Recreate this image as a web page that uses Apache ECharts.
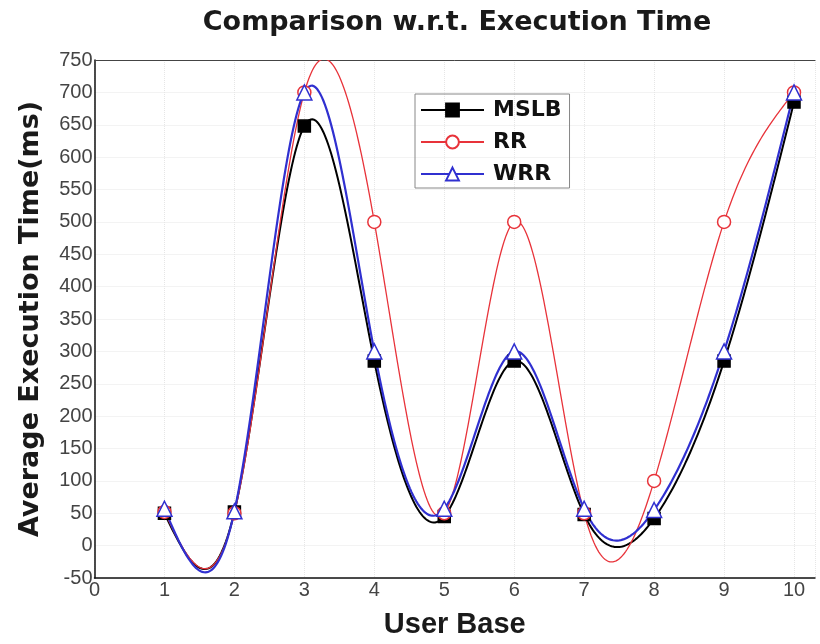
<!DOCTYPE html>
<html><head><meta charset="utf-8">
<script src="https://cdn.jsdelivr.net/npm/echarts@6/dist/echarts.min.js"></script>
<style>html,body{margin:0;padding:0;background:#fff}#c{width:820px;height:644px}</style>
</head><body><div id="c"></div>
<script>
var userBase = [1, 2, 3, 4, 5, 6, 7, 8, 9, 10];
var mslb = [50, 52, 648, 285, 45, 285, 48, 42, 285, 685];
var rr   = [52, 50, 700, 500, 50, 500, 50, 100, 500, 700];
var wrr  = [57, 53, 700, 300, 57, 300, 57, 55, 300, 700];
var seriesNames = ['MSLB', 'RR', 'WRR'];
var yTicks = [-50, 0, 50, 100, 150, 200, 250, 300, 350, 400, 450, 500, 550, 600, 650, 700, 750];

function naturalSpline(xs, ys) {
  var n = xs.length, h = [], M = new Array(n).fill(0);
  for (var i = 0; i < n - 1; i++) h.push(xs[i + 1] - xs[i]);
  var a = [], b = [], c = [], d = [];
  for (var i = 1; i < n - 1; i++) {
    a.push(h[i - 1]); b.push(2 * (h[i - 1] + h[i])); c.push(h[i]);
    d.push(6 * ((ys[i + 1] - ys[i]) / h[i] - (ys[i] - ys[i - 1]) / h[i - 1]));
  }
  var m = d.length;
  for (var i = 1; i < m; i++) {
    var w = a[i] / b[i - 1];
    b[i] -= w * c[i - 1]; d[i] -= w * d[i - 1];
  }
  var sol = new Array(m);
  sol[m - 1] = d[m - 1] / b[m - 1];
  for (var i = m - 2; i >= 0; i--) sol[i] = (d[i] - c[i] * sol[i + 1]) / b[i];
  for (var i = 0; i < m; i++) M[i + 1] = sol[i];
  return function (x) {
    var k = 0;
    while (k < n - 2 && x > xs[k + 1]) k++;
    var hh = h[k], A = xs[k + 1] - x, B = x - xs[k];
    return M[k] * A * A * A / (6 * hh) + M[k + 1] * B * B * B / (6 * hh)
      + (ys[k] / hh - M[k] * hh / 6) * A + (ys[k + 1] / hh - M[k + 1] * hh / 6) * B;
  };
}

function curveSeries(name, ys, color, width) {
  var f = naturalSpline(userBase, ys);
  return {
    name: name, type: 'custom', z: 2, clip: true,
    data: userBase.map(function (x, i) { return [x, ys[i]]; }),
    renderItem: function (params, api) {
      if (params.dataIndex !== 0) return null;
      var pts = [];
      var x0 = userBase[0], x1 = userBase[userBase.length - 1];
      var steps = 400;
      for (var s = 0; s <= steps; s++) {
        var x = x0 + (x1 - x0) * s / steps;
        pts.push(api.coord([x, f(x)]));
      }
      var cs = params.coordSys;
      return {
        type: 'polyline',
        shape: { points: pts },
        style: { stroke: color, lineWidth: width, fill: null },
        clipPath: { type: 'rect', shape: { x: cs.x, y: cs.y, width: cs.width, height: cs.height } }
      };
    }
  };
}

function markerSeries(name, ys, symbol, size, fill, stroke, width) {
  return {
    name: name, type: 'line', z: 5,
    data: userBase.map(function (x, i) { return [x, ys[i]]; }),
    symbol: symbol, symbolSize: size, showSymbol: true,
    lineStyle: { color: stroke, width: width, opacity: 0 },
    itemStyle: { color: fill, borderColor: stroke, borderWidth: 1.5, opacity: 1 },
    emphasis: { disabled: true }
  };
}

var chart = echarts.init(document.getElementById('c'));
chart.setOption({
  animation: false,
  backgroundColor: '#fff',
  title: {
    text: 'Comparison w.r.t. Execution Time', left: 452, textAlign: 'center', top: 4,
    textStyle: { fontFamily: 'DejaVu Sans', fontWeight: 'bold', fontSize: 27, color: '#1a1a1a' }
  },
  legend: {
    orient: 'vertical', left: 415, top: 94,
    data: seriesNames,
    itemWidth: 63, itemHeight: 16, itemGap: 10,
    padding: [5, 8, 3, 5],
    borderColor: '#888', borderWidth: 1,
    lineStyle: { opacity: 1 },
    textStyle: { fontFamily: 'DejaVu Sans', fontWeight: 'bold', fontSize: 22, color: '#111', padding: [0, 0, 0, 4] }
  },
  grid: { left: 94.5, right: 5, top: 60, bottom: 61 },
  xAxis: [{
    type: 'value', min: 0, max: 10.3, interval: 1,
    name: 'User Base', nameLocation: 'middle', nameGap: 32,
    nameTextStyle: { fontFamily: 'Liberation Sans', fontWeight: 'bold', fontSize: 29, color: '#1a1a1a' },
    axisLine: { onZero: false, lineStyle: { color: '#111', width: 1.5 } },
    axisTick: { show: false },
    axisLabel: { showMaxLabel: false, margin: 2, fontFamily: 'Liberation Sans', fontSize: 20, color: '#444' },
    splitLine: { show: true, lineStyle: { color: '#e6e6e6', type: 'dotted' } }
  }, {
    type: 'value', position: 'top', min: 0, max: 10.3,
    axisLine: { show: true, onZero: false, lineStyle: { color: '#444', width: 1 } },
    axisTick: { show: false }, axisLabel: { show: false }, splitLine: { show: false }
  }],
  yAxis: {
    type: 'value', min: yTicks[0], max: yTicks[yTicks.length - 1], interval: 50,
    name: 'Average Execution Time(ms)', nameLocation: 'middle', nameGap: 50,
    nameTextStyle: { fontFamily: 'DejaVu Sans', fontWeight: 'bold', fontSize: 27, color: '#1a1a1a' },
    axisLine: { show: true, onZero: false, lineStyle: { color: '#111', width: 1.5 } },
    axisTick: { show: false },
    axisLabel: { margin: 2, fontFamily: 'Liberation Sans', fontSize: 20, color: '#444' },
    splitLine: { show: true, lineStyle: { color: '#e6e6e6', type: 'dotted' } }
  },
  series: [
    markerSeries('MSLB', mslb, 'rect', 12, '#000', '#000', 2),
    markerSeries('RR', rr, 'circle', 13, '#fff', '#e8333a', 1.3),
    markerSeries('WRR', wrr, 'triangle', 15, '#fff', '#3030d0', 2.2),
    curveSeries('MSLB', mslb, '#000', 2),
    curveSeries('RR', rr, '#e8333a', 1.3),
    curveSeries('WRR', wrr, '#3030d0', 2.2)
  ]
});
</script></body></html>
